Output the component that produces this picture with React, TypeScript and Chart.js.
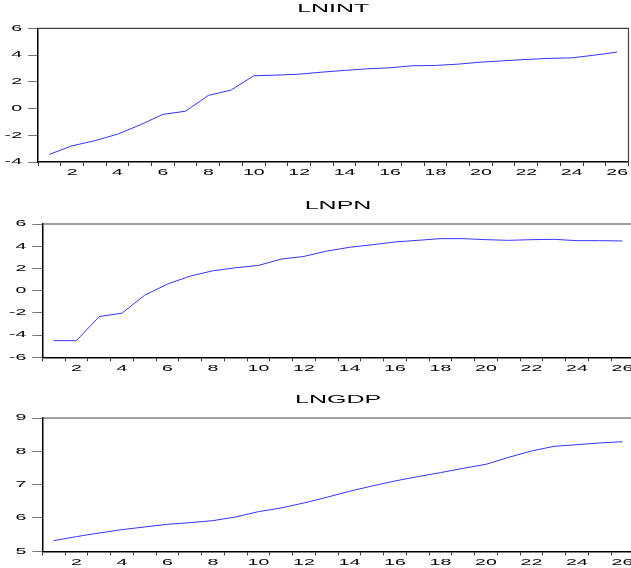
import { useEffect, useRef } from 'react';
import { Chart, registerables } from 'chart.js';

Chart.register(...registerables);

// ---------- data ----------
const periods = ['1', '2', '3', '4', '5', '6', '7', '8', '9', '10', '11', '12', '13', '14', '15', '16', '17', '18', '19', '20', '21', '22', '23', '24', '25', '26'];
const xTickLabels = ['', '2', '', '4', '', '6', '', '8', '', '10', '', '12', '', '14', '', '16', '', '18', '', '20', '', '22', '', '24', '', '26'];

const lnintValues = [-3.43, -2.79, -2.41, -1.92, -1.22, -0.44, -0.2, 0.98, 1.38, 2.45, 2.5, 2.57, 2.72, 2.85, 2.97, 3.05, 3.2, 3.22, 3.32, 3.47, 3.57, 3.67, 3.75, 3.79, 3.99, 4.22];
const lnpnValues = [-4.5, -4.5, -2.33, -2.03, -0.41, 0.59, 1.31, 1.79, 2.06, 2.27, 2.84, 3.08, 3.56, 3.9, 4.13, 4.38, 4.53, 4.68, 4.68, 4.59, 4.53, 4.59, 4.62, 4.5, 4.5, 4.47];
const lngdpValues = [5.32, 5.44, 5.55, 5.65, 5.73, 5.81, 5.86, 5.92, 6.03, 6.19, 6.3, 6.45, 6.62, 6.8, 6.96, 7.11, 7.24, 7.36, 7.49, 7.61, 7.82, 8.01, 8.15, 8.2, 8.25, 8.29];

const lnintYTicks = [-4, -2, 0, 2, 4, 6];
const lnpnYTicks = [-6, -4, -2, 0, 2, 4, 6];
const lngdpYTicks = [5, 6, 7, 8, 9];

// ---------- layout / style ----------
const FONT = 'Liberation Sans';
const TITLE_SIZE = 10;
const TICK_SIZE = 8.5;
const TITLE_SX = 2.5;
const TICK_SX = 2.3;
const LINE_COLOR = '#3535ff';

type PanelCfg = {
  title: string;
  values: number[];
  yTicks: number[];
  top: number;
  height: number;
  titlePadTop: number;
  titlePadBottom: number;
  xAxisH: number;
  yAxisW: number;
  padRight: number;
};

const panels: PanelCfg[] = [
  { title: 'LNINT', values: lnintValues, yTicks: lnintYTicks, top: 0, height: 186, titlePadTop: 3.2, titlePadBottom: 13.1, xAxisH: 24, yAxisW: 38, padRight: 11.5 },
  { title: 'LNPN', values: lnpnValues, yTicks: lnpnYTicks, top: 186, height: 192, titlePadTop: 14, titlePadBottom: 12, xAxisH: 20.7, yAxisW: 42.3, padRight: 6.2 },
  { title: 'LNGDP', values: lngdpValues, yTicks: lngdpYTicks, top: 378, height: 190, titlePadTop: 16.5, titlePadBottom: 11.5, xAxisH: 16.7, yAxisW: 42.3, padRight: 6.2 },
];

const CANVAS_W = 640;

const framePlugin = {
  id: 'frame',
  afterDraw(chart: any) {
    const { ctx, chartArea: a } = chart;
    ctx.save();
    ctx.strokeStyle = '#444';
    ctx.lineWidth = 1.2;
    ctx.beginPath();
    ctx.moveTo(a.left, a.top);
    ctx.lineTo(a.right, a.top);
    ctx.lineTo(a.right, a.bottom);
    ctx.stroke();
    ctx.restore();
  },
};

function patchText(ctx: any) {
  const proto = CanvasRenderingContext2D.prototype.fillText;
  ctx.fillText = function (text: string, x: number, y: number, maxWidth?: number) {
    const m = /([\d.]+)px/.exec(this.font);
    const size = m ? parseFloat(m[1]) : 10;
    const sx = size >= 9.5 ? TITLE_SX : TICK_SX;
    this.save();
    this.translate(x, y);
    this.scale(sx, 1);
    if (maxWidth !== undefined) proto.call(this, text, 0, 0, maxWidth / sx);
    else proto.call(this, text, 0, 0);
    this.restore();
  };
}

function Panel({ cfg }: { cfg: PanelCfg }) {
  const ref = useRef<HTMLCanvasElement | null>(null);
  useEffect(() => {
    const canvas = ref.current!;
    const ctx = canvas.getContext('2d')!;
    patchText(ctx);
    const yMin = cfg.yTicks[0];
    const yMax = cfg.yTicks[cfg.yTicks.length - 1];
    const yStep = cfg.yTicks[1] - cfg.yTicks[0];
    const chart = new Chart(ctx, {
      type: 'line',
      data: {
        labels: periods,
        datasets: [
          {
            data: cfg.values,
            borderColor: LINE_COLOR,
            borderWidth: 1,
            pointRadius: 0,
            tension: 0,
            fill: false,
          },
        ],
      },
      options: {
        animation: false,
        responsive: false,
        devicePixelRatio: 1,
        layout: { padding: { left: 0, right: cfg.padRight, top: 0, bottom: 0 } },
        plugins: {
          legend: { display: false },
          tooltip: { enabled: false },
          title: {
            display: true,
            text: cfg.title,
            fullSize: false,
            color: '#000',
            font: { family: FONT, size: TITLE_SIZE, weight: 'normal', lineHeight: 1.2 },
            padding: { top: cfg.titlePadTop, bottom: cfg.titlePadBottom },
          },
        },
        scales: {
          x: {
            type: 'category',
            offset: true,
            grid: {
              offset: true,
              drawOnChartArea: false,
              drawTicks: true,
              tickLength: 4,
              color: '#333',
            },
            border: { color: '#000', width: 1.5 },
            ticks: {
              autoSkip: false,
              maxRotation: 0,
              minRotation: 0,
              padding: 2,
              color: '#000',
              font: { family: FONT, size: TICK_SIZE },
              callback: (_v: any, i: number) => xTickLabels[i],
            },
            afterFit: (s: any) => {
              s.height = cfg.xAxisH;
            },
          },
          y: {
            min: yMin,
            max: yMax,
            grid: {
              drawOnChartArea: false,
              drawTicks: true,
              tickLength: 10,
              color: '#777',
            },
            border: { color: '#000', width: 1.5 },
            ticks: {
              stepSize: yStep,
              padding: 6,
              color: '#000',
              font: { family: FONT, size: TICK_SIZE },
            },
            afterFit: (s: any) => {
              s.width = cfg.yAxisW;
            },
          },
        },
      },
      plugins: [framePlugin],
    } as any);
    return () => chart.destroy();
  }, [cfg]);
  return (
    <canvas
      ref={ref}
      width={CANVAS_W}
      height={cfg.height}
      style={{ position: 'absolute', left: 0, top: cfg.top, width: CANVAS_W, height: cfg.height }}
    />
  );
}

export default function App() {
  return (
    <div
      style={{
        position: 'fixed',
        left: 0,
        top: 0,
        width: 631,
        height: 568,
        overflow: 'hidden',
        background: '#fff',
      }}
    >
      {panels.map((p) => (
        <Panel key={p.title} cfg={p} />
      ))}
    </div>
  );
}
